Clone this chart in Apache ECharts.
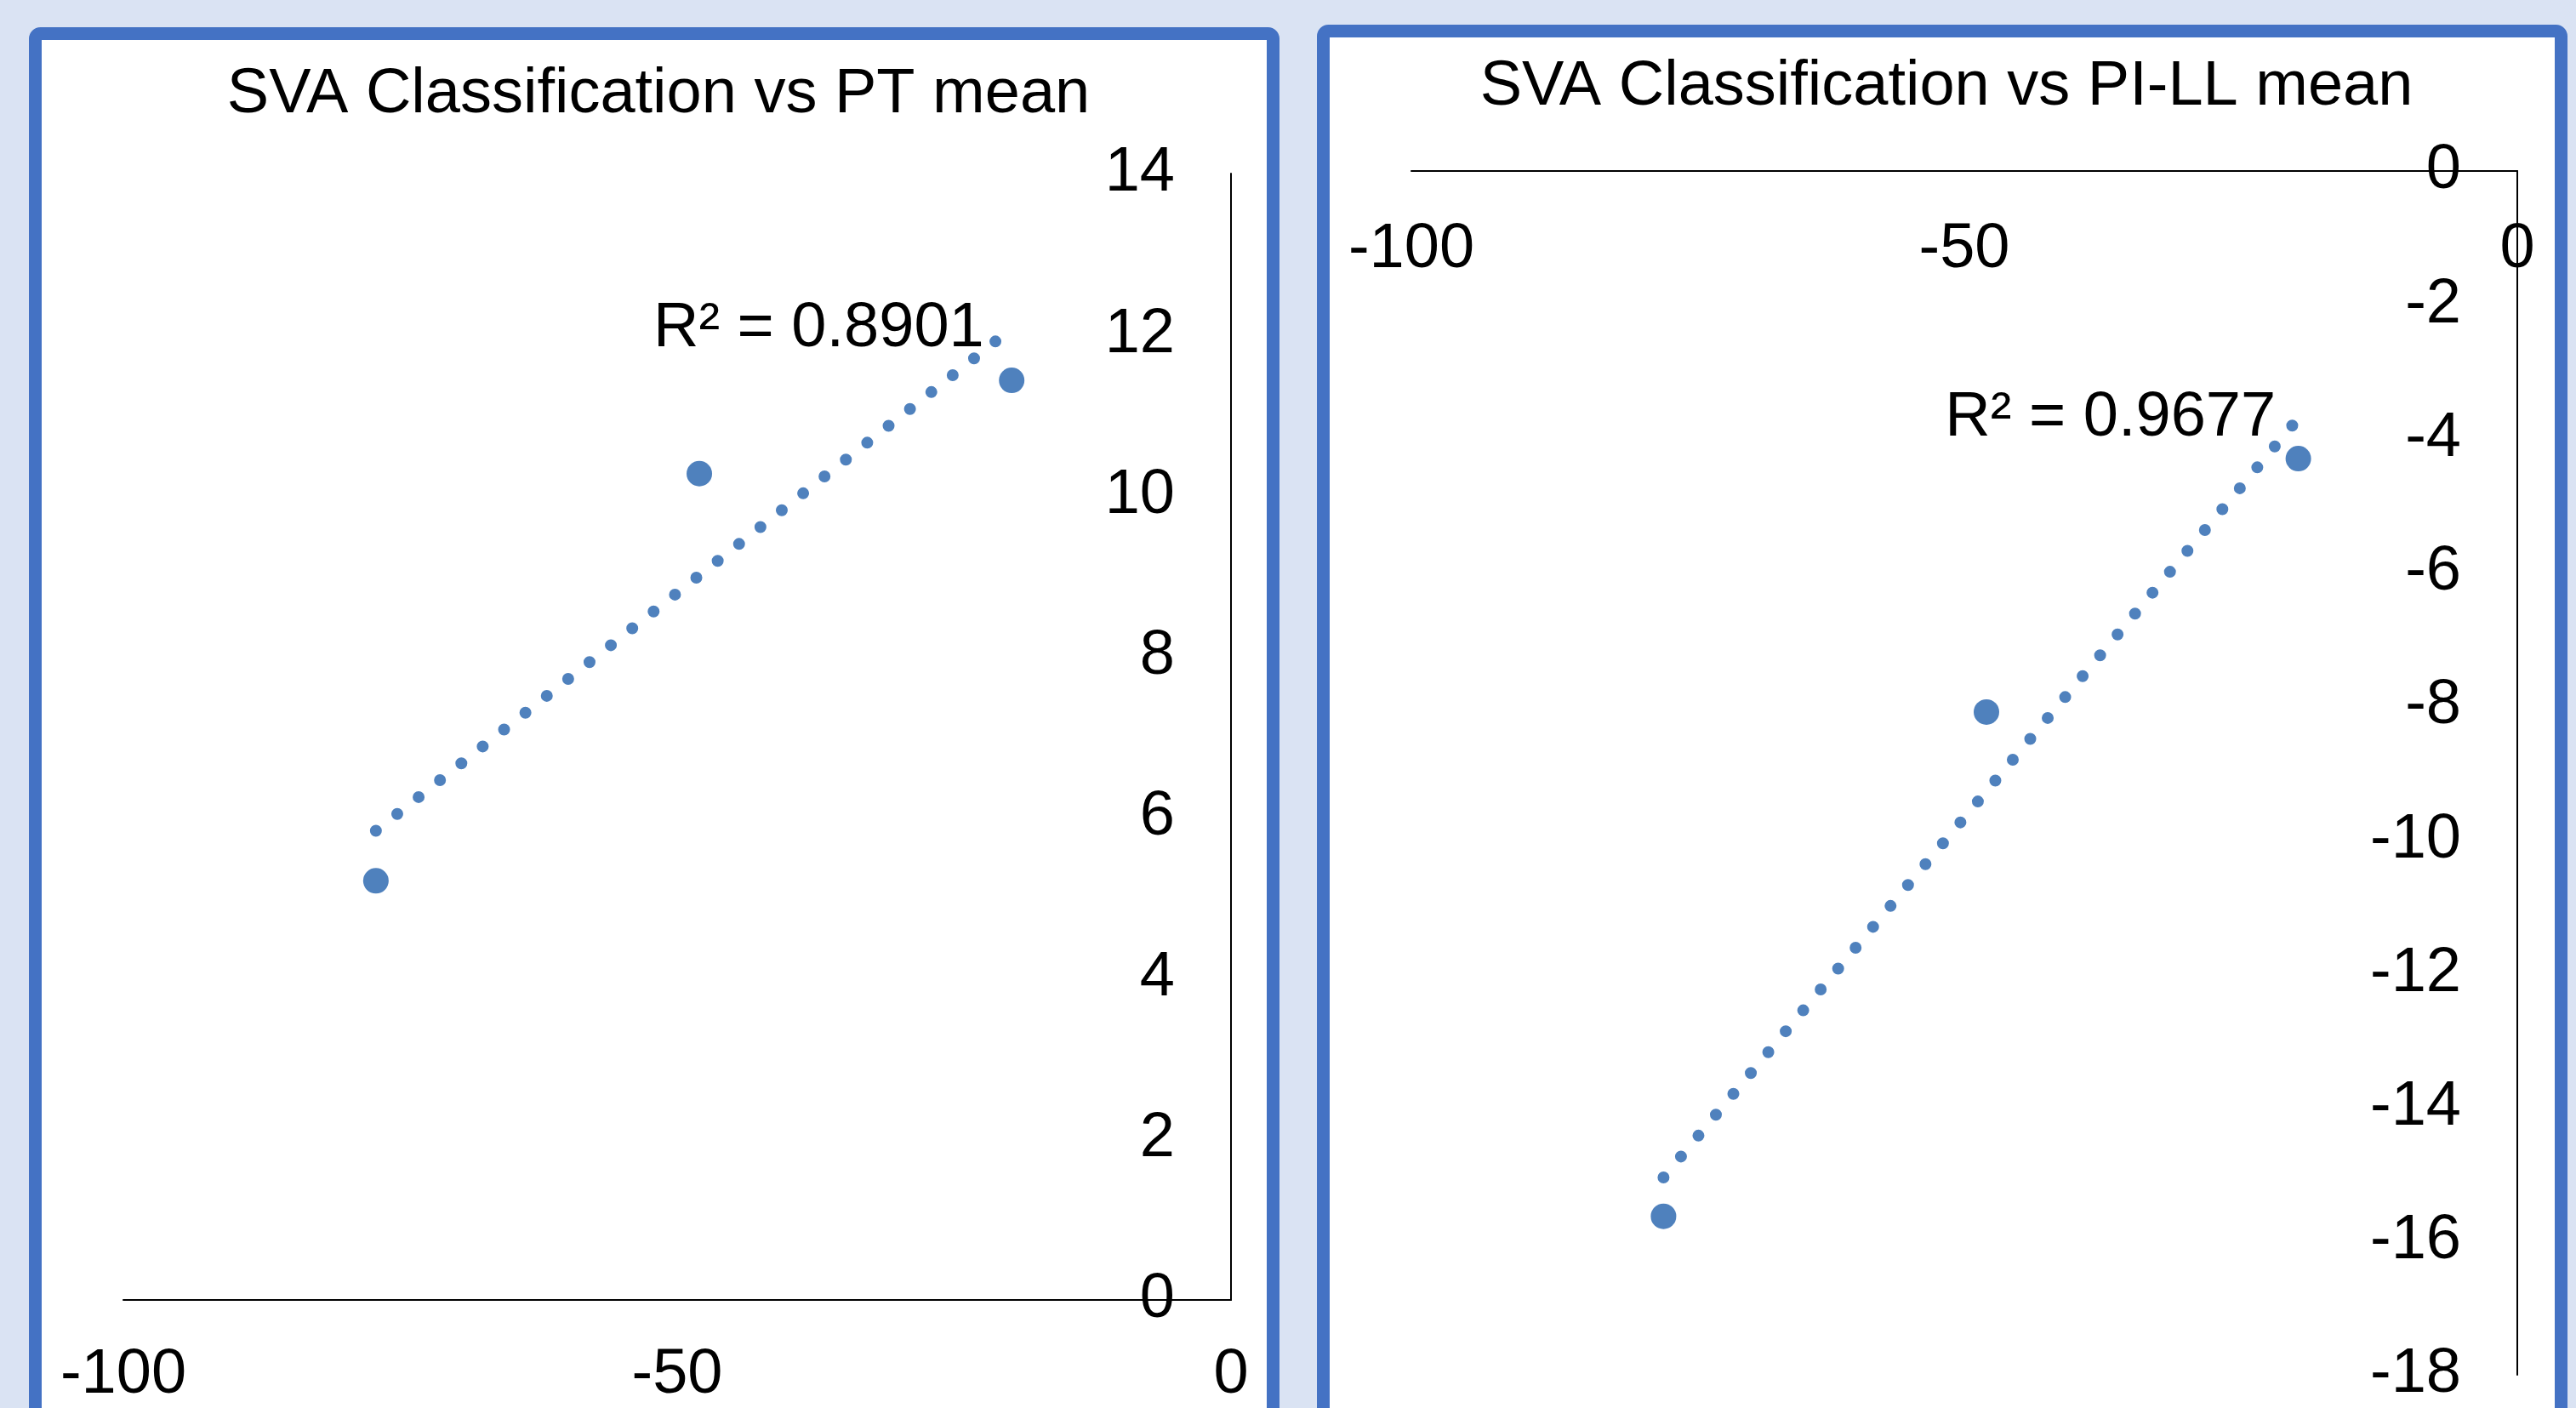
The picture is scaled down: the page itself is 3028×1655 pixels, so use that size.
<!DOCTYPE html>
<html><head><meta charset="utf-8">
<script src="https://cdn.jsdelivr.net/npm/echarts@6/dist/echarts.min.js"></script>
<style>html,body{margin:0;padding:0;background:#dae3f3;}#c{width:3028px;height:1655px;}</style>
</head><body><div id="c"></div>
<script>
// ---- data ----
const svaClass = [-77.2, -48.0, -19.8];
const ptMean = [5.21, 10.27, 11.43];
const pillMean = [-15.63, -8.09, -4.30];
const xAxisRange = [-100, 0, 50];      // min, max, interval
const ptAxisRange = [0, 14, 2];
const pillAxisRange = [-18, 0, 2];
const r2Labels = ['R\u00b2 = 0.8901', 'R\u00b2 = 0.9677'];
const titles = ['SVA Classification vs PT mean', 'SVA Classification vs PI-LL mean'];

// linear least-squares trendline spanning the data's x range
function trend(xs, ys) {
  const n = xs.length;
  const mx = xs.reduce((a, b) => a + b, 0) / n;
  const my = ys.reduce((a, b) => a + b, 0) / n;
  let sxy = 0, sxx = 0;
  for (let i = 0; i < n; i++) { sxy += (xs[i] - mx) * (ys[i] - my); sxx += (xs[i] - mx) ** 2; }
  const b = sxy / sxx, a = my - b * mx;
  const x0 = Math.min(...xs), x1 = Math.max(...xs);
  return [[x0, a + b * x0], [x1, a + b * x1]];
}
const pts = (xs, ys) => xs.map((x, i) => [x, ys[i]]);

const FONT = 'Liberation Sans, Arial, sans-serif';
const FS = 74;
const BLUE = '#4f81bd';
const lineCol = '#000';

function xAxisCfg(gi, pos, inside, margin) {
  return {
    gridIndex: gi, type: 'value', min: xAxisRange[0], max: xAxisRange[1], interval: xAxisRange[2],
    position: pos,
    axisLine: { show: true, onZero: false, lineStyle: { color: lineCol, width: 2 } },
    axisTick: { show: false }, splitLine: { show: false },
    axisLabel: { inside: inside, fontSize: FS, color: '#000', fontFamily: FONT, margin: margin, showMinLabel: true, showMaxLabel: true }
  };
}
function yAxisCfg(gi, r) {
  return {
    gridIndex: gi, type: 'value', min: r[0], max: r[1], interval: r[2],
    position: 'right',
    axisLine: { show: true, onZero: false, lineStyle: { color: lineCol, width: 2 } },
    axisTick: { show: false }, splitLine: { show: false },
    axisLabel: { inside: true, fontSize: FS, color: '#000', fontFamily: FONT, margin: 66, showMinLabel: true, showMaxLabel: true }
  };
}
function trendSeries(gi, line, label, dist) {
  return {
    type: 'line', xAxisIndex: gi, yAxisIndex: gi, data: line, symbol: 'none', z: 2,
    lineStyle: { color: BLUE, width: 14, type: [0, 32], cap: 'round' },
    silent: true,
    markPoint: {
      symbol: 'circle', symbolSize: 1, itemStyle: { color: 'rgba(0,0,0,0)' },
      data: [{ coord: line[1] }],
      label: { show: true, position: 'left', distance: dist, formatter: label, fontSize: FS, color: '#000', fontFamily: FONT }
    }
  };
}
function scatterSeries(gi, data) {
  return { type: 'scatter', xAxisIndex: gi, yAxisIndex: gi, data: data, symbolSize: 30, itemStyle: { color: BLUE, opacity: 1 }, z: 3 };
}

const chart = echarts.init(document.getElementById('c'));
chart.setOption({
  backgroundColor: '#dae3f3',
  animation: false,
  graphic: [
    { type: 'rect', z: -10, silent: true, shape: { x: 41.5, y: 39.5, width: 1455, height: 1700, r: 6 }, style: { fill: '#fff', stroke: '#4472c4', lineWidth: 15 } },
    { type: 'rect', z: -10, silent: true, shape: { x: 1555.5, y: 36.5, width: 1455, height: 1700, r: 6 }, style: { fill: '#fff', stroke: '#4472c4', lineWidth: 15 } }
  ],
  title: [
    { text: titles[0], left: 769, top: 70, textAlign: 'center', textStyle: { fontSize: FS, fontWeight: 'normal', color: '#000', fontFamily: FONT } },
    { text: titles[1], left: 2283, top: 61, textAlign: 'center', textStyle: { fontSize: FS, fontWeight: 'normal', color: '#000', fontFamily: FONT } }
  ],
  grid: [
    { left: 145, right: 1581, top: 204, bottom: 127, outerBoundsMode: 'none', containLabel: false },
    { left: 1659, right: 69, top: 201, bottom: 39, outerBoundsMode: 'none', containLabel: false }
  ],
  xAxis: [xAxisCfg(0, 'bottom', false, 52), xAxisCfg(1, 'top', true, 56)],
  yAxis: [yAxisCfg(0, ptAxisRange), yAxisCfg(1, pillAxisRange)],
  series: [
    trendSeries(0, trend(svaClass, ptMean), r2Labels[0], 32),
    scatterSeries(0, pts(svaClass, ptMean)),
    trendSeries(1, trend(svaClass, pillMean), r2Labels[1], 26),
    scatterSeries(1, pts(svaClass, pillMean))
  ]
});
</script>
</body></html>
